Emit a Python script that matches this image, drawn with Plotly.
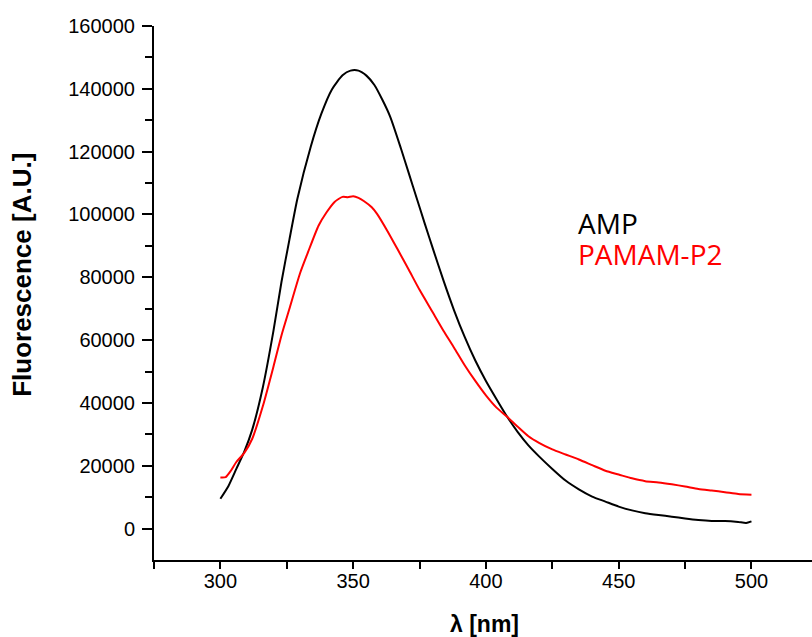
import plotly.graph_objects as go

amp_wl = [300, 303, 306, 309, 312, 316, 320, 323, 326, 329, 334, 338, 342, 346, 349, 352,
          355, 358, 361, 364, 368, 371, 374, 377, 380, 384, 388, 392, 396, 400, 404, 408,
          412, 416, 420, 425, 430, 435, 440, 445, 450, 455, 460, 465, 470, 475, 480, 485,
          490, 495, 498, 500]
amp_val = [9500, 13500, 19000, 24500, 31500, 45000, 63000, 78500, 92000, 105000, 121500,
           132000, 139800, 144300, 145800, 145800, 144200, 141200, 136500, 131000, 121000,
           113000, 105000, 97000, 89200, 79000, 69500, 61000, 53500, 47000, 41200, 35600,
           30700, 26500, 23000, 19000, 15300, 12500, 10200, 8600, 7000, 5800, 4900, 4300,
           3800, 3200, 2700, 2400, 2400, 2100, 1800, 2300]

pam_wl = [300, 302, 304, 306, 309, 312, 316, 320, 323, 326, 330, 333, 337, 340, 343, 346,
          348, 350, 352, 354, 357, 359, 363, 367, 371, 375, 380, 384, 388, 392, 396, 400,
          404, 408, 412, 416, 420, 425, 430, 435, 440, 445, 450, 455, 460, 465, 470, 475,
          480, 485, 490, 495, 500]
pam_val = [16300, 16400, 18500, 21200, 24100, 28600, 39000, 51600, 61500, 70000, 81300,
           88000, 96500, 100700, 104000, 105600, 105500, 105800, 105300, 104300, 102300,
           100200, 94600, 88500, 82300, 76000, 68800, 63000, 57600, 52000, 47000, 42400,
           38500, 35600, 32400, 29400, 27300, 25200, 23600, 22000, 20200, 18400, 17200,
           16000, 15100, 14700, 14100, 13400, 12600, 12100, 11600, 11000, 10800]

series_names = ["AMP", "PAMAM-P2"]
series_colors = ["#000000", "#ff0000"]

x_title = "λ [nm]"
y_title = "Fluorescence [A.U.]"

fig = go.Figure()
fig.add_trace(go.Scatter(x=amp_wl, y=amp_val, mode="lines", name=series_names[0],
                         line=dict(color=series_colors[0], width=2, shape="spline", smoothing=0.6)))
fig.add_trace(go.Scatter(x=pam_wl, y=pam_val, mode="lines", name=series_names[1],
                         line=dict(color=series_colors[1], width=2, shape="spline", smoothing=0.6)))

tick_font = dict(family="Liberation Sans, Arial, sans-serif", size=20, color="#000")
title_family = "Liberation Sans, Arial, sans-serif"

fig.update_layout(
    width=812, height=637,
    margin=dict(l=154, r=0, t=26, b=77),
    paper_bgcolor="white", plot_bgcolor="white",
    showlegend=False,
    xaxis=dict(
        range=[275, 522.8], tick0=300, dtick=50, showgrid=False, zeroline=False,
        showline=True, linecolor="#000", linewidth=2, automargin=False,
        ticks="outside", ticklen=7, tickwidth=1.5, tickcolor="#000",
        tickfont=tick_font, ticklabelstandoff=-5,
        minor=dict(ticks="outside", tick0=275, dtick=25, ticklen=7, tickwidth=1.5, tickcolor="#000"),
    ),
    yaxis=dict(
        range=[-10000, 160000], tick0=0, dtick=20000, showgrid=False, zeroline=False,
        showline=True, linecolor="#000", linewidth=2, automargin=False,
        ticks="outside", ticklen=10, tickwidth=1.5, tickcolor="#000",
        tickfont=tick_font, tickformat="d", ticklabelstandoff=3,
        minor=dict(ticks="outside", tickmode="array",
                   tickvals=[10000, 30000, 50000, 70000, 90000, 110000, 130000, 150000],
                   ticklen=7, tickwidth=1.5, tickcolor="#000"),
    ),
)

fig.add_annotation(x=-0.2006, y=0.534, xref="paper", yref="paper",
                   text="<b>" + y_title + "</b>", textangle=-90, showarrow=False,
                   xanchor="center", yanchor="middle",
                   font=dict(family=title_family, size=26, color="#000"))
fig.add_annotation(x=0.503, y=-0.1205, xref="paper", yref="paper",
                   text="<b>" + x_title + "</b>", showarrow=False,
                   xanchor="center", yanchor="middle",
                   font=dict(family=title_family, size=23, color="#000"))

legend_font = "Open Sans, Lato, sans-serif"
fig.add_annotation(x=0.641, y=0.631, xref="paper", yref="paper", text=series_names[0],
                   showarrow=False, xanchor="left", yanchor="middle",
                   font=dict(family=legend_font, size=28, color=series_colors[0]))
fig.add_annotation(x=0.641, y=0.573, xref="paper", yref="paper", text=series_names[1],
                   showarrow=False, xanchor="left", yanchor="middle",
                   font=dict(family=legend_font, size=28, color=series_colors[1]))

# remove the default page margin so the 812x637 figure fills the window exactly
fig.write_html(
    "out.html",
    config={"displayModeBar": False},
    post_script="document.body.style.margin='0';"
                "document.documentElement.style.overflow='hidden';",
)
